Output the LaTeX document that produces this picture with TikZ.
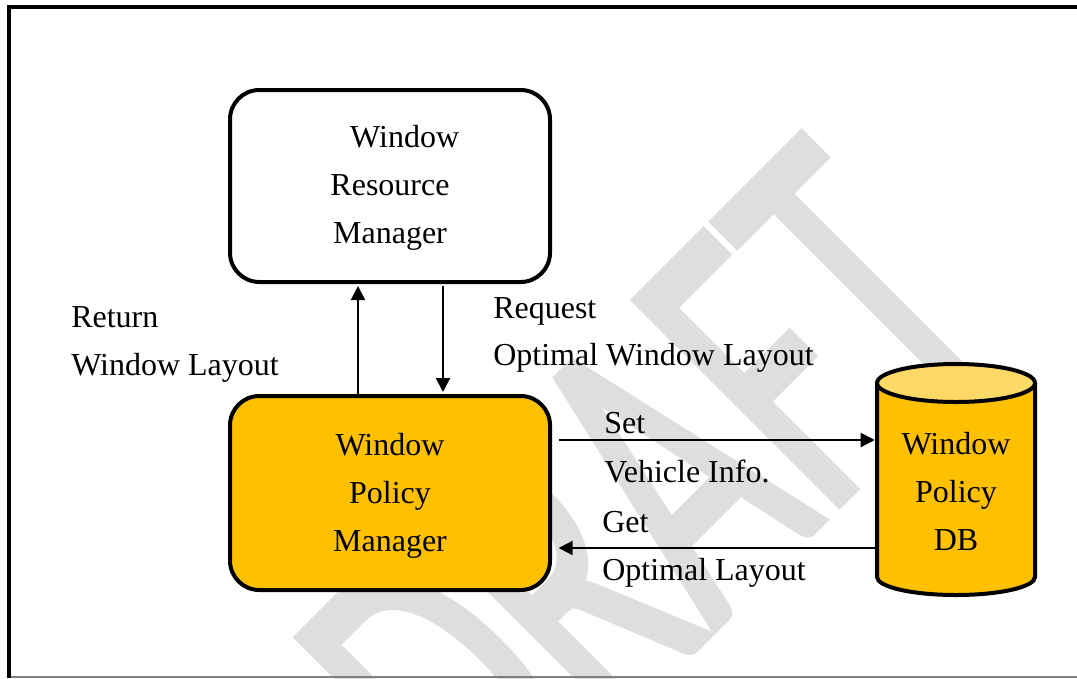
\documentclass[tikz,border=0pt]{standalone}
\usepackage{fontspec}
\setmainfont{Liberation Serif}
\newfontfamily\wmfont[RawFeature={embolden=1.7}]{Carlito}
\usetikzlibrary{arrows.meta}
\definecolor{wmgray}{HTML}{DEDEDE}
\definecolor{gold}{HTML}{FFC000}
\definecolor{goldlight}{HTML}{FFD966}
\definecolor{framegray}{HTML}{808080}
\tikzset{
  box/.style={draw=black, line width=3pt, rounded corners=22pt, minimum width=240pt, inner sep=0pt},
  boxtext/.style={align=center, font=\fontsize{24}{36}\selectfont, inner sep=0pt},
  lbl/.style={anchor=base west, inner sep=0pt, font=\fontsize{24}{36}\selectfont},
  arr/.style={line width=1.5pt, -{Triangle[length=10.5pt, width=10.5pt]}},
  wmark/.style={font=\wmfont\fontsize{206}{206}\selectfont, text=wmgray, anchor=base west, inner sep=0pt, rotate=45, yscale=1.64},
}
\begin{document}
\begin{tikzpicture}[x=0.75pt, y=-0.75pt]
\useasboundingbox (0,0) rectangle (1077,678);
\fill[white] (0,0) rectangle (1077,678);
% watermark
\node[wmark] (wm) at (488,856) {DRAFT};
% frame
\draw[framegray, line width=0.8pt] (9,677) -- (1077,677);
\draw[black, line width=3.5pt] (9,678) -- (9,7) -- (1077,7);
% boxes
\node[box, fill=white, minimum height=144pt] (rm) at (390,186) {};
\node[boxtext] (rmt) at (390,188) {\hspace*{22pt}Window\\Resource\\Manager};
\node[box, fill=gold, minimum height=145.5pt] (pm) at (390,493) {};
\node[boxtext] (pmt) at (390,496) {Window\\Policy\\Manager};
% cylinder
\coordinate (cyltop) at (956,383);
\fill[gold] (877,383) -- (877,577) arc[start angle=180, end angle=360, x radius=59.25pt, y radius=13.5pt] -- (1035,383) -- cycle;
\draw[line width=3pt] (877,383) -- (877,577) arc[start angle=180, end angle=360, x radius=59.25pt, y radius=13.5pt] -- (1035,383);
\draw[line width=3pt, fill=goldlight] (cyltop) ellipse[x radius=59.25pt, y radius=14.25pt];
\node[minimum width=118.5pt, minimum height=174pt, inner sep=0pt] (db) at (956,480) {};
\node[boxtext] (dbt) at (956,491) {Window\\Policy\\DB};
% connector anchor coordinates
\coordinate (upx) at (358,0);
\coordinate (dnx) at (443,0);
\coordinate (sety) at (0,440);
\coordinate (gety) at (0,548);
% arrows
\draw[arr] ([yshift=-3pt]pm.north -| upx) -- ([yshift=-1.5pt]rm.south -| upx);
\draw[arr] ([yshift=-1.5pt]rm.south -| dnx) -- ([yshift=1.5pt]pm.north -| dnx);
\draw[arr] ([xshift=5pt]pm.east |- sety) -- ([xshift=-1.5pt]db.west |- sety);
\draw[arr] ([xshift=-1.5pt]db.west |- gety) -- ([xshift=5pt]pm.east |- gety);
% labels
\node[lbl] (l1) at (71,327) {Return};
\node[lbl] (l2) at (71,375) {Window Layout};
\node[lbl] (l3) at (493,318) {Request};
\node[lbl] (l4) at (493,365) {Optimal Window Layout};
\node[lbl] (l5) at (604,433) {Set};
\node[lbl] (l6) at (604,482) {Vehicle Info.};
\node[lbl] (l7) at (602,532) {Get};
\node[lbl] (l8) at (602,580) {Optimal Layout};
\end{tikzpicture}
\end{document}
